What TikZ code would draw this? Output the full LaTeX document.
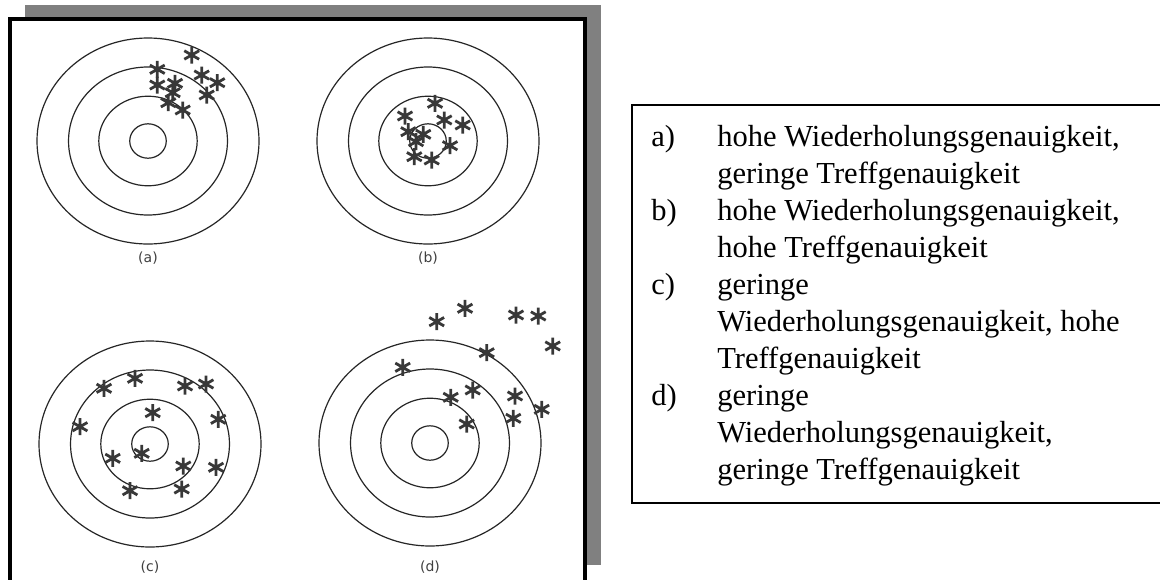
\documentclass[tikz,border=0pt]{standalone}
\usepackage{fontspec}
\setmainfont{Liberation Serif}
\newfontfamily\lblfont{DejaVu Sans}
\begin{document}
\begin{tikzpicture}[x=0.75pt,y=-0.75pt,
  ring/.style={draw=black!85, line width=0.9pt},
  shotline/.style={draw=black!78, line width=2.1pt},
  tgtlabel/.style={font=\lblfont\fontsize{10.5pt}{12pt}\selectfont, text=black!75, inner sep=0pt},
  legtext/.style={font=\fontsize{22.9pt}{27.75pt}\selectfont, anchor=base west, inner sep=0pt},
  pics/shot/.style={code={
    \draw[shotline] (0,-8.5)--(0,8.5) (-7.4,-4.25)--(7.4,4.25) (-7.4,4.25)--(7.4,-4.25);}}
]
\useasboundingbox (0,0) rectangle (1160,579);
\fill[white] (0,0) rectangle (1160,579);
% shadow and frame
\fill[gray] (25,5) rectangle (601,565);
\filldraw[fill=white, draw=black, line width=3pt] (10,19) rectangle (585,610);

\newcommand\tgt[2]{%
  \begin{scope}[shift={(#1,#2)}]
    \draw[ring] (0,0) ellipse [x radius=83.25pt, y radius=77.25pt];
    \draw[ring] (0,0) ellipse [x radius=59.6pt, y radius=55.5pt];
    \draw[ring] (0,0) ellipse [x radius=36.9pt, y radius=33.6pt];
    \draw[ring] (0,0) ellipse [x radius=13.7pt, y radius=12.9pt];
  \end{scope}}

\tgt{148}{141}
\tgt{428}{141}
\tgt{150}{444}
\tgt{430}{443}

\node[tgtlabel] (la) at (148,258) {(a)};
\node[tgtlabel] (lb) at (428,258) {(b)};
\node[tgtlabel] (lc) at (150,567) {(c)};
\node[tgtlabel] (ld) at (430,567) {(d)};

% shots (a)
\foreach \x/\y in {191.7/55, 157.3/69.3, 201.7/75, 217.3/82.7, 157.3/85, 175/83.3,
  172.7/92.7, 206.7/95, 168.3/102.7, 182.7/110}
  \pic at (\x,\y) {shot};
% shots (b)
\foreach \x/\y in {435/103.3, 405/116, 444.3/120, 462.7/125, 408.3/131.7, 423.3/134.3,
  416/141.7, 450/145.7, 414.3/156.7, 431.7/160}
  \pic at (\x,\y) {shot};
% shots (c)
\foreach \x/\y in {135/378.3, 104/388.3, 185/386, 206/384, 152.7/412.7, 218.3/419.3,
  80/426.7, 112.7/458.3, 141.7/453.3, 183.3/466, 216/467.3, 130/490.7, 181.7/489}
  \pic at (\x,\y) {shot};
% shots (d)
\foreach \x/\y in {465/308.3, 436.7/321.7, 516/315, 538.3/316, 552.7/346, 486.7/352.7,
  402.7/367.3, 472.7/390, 450.7/397.3, 515/396, 541.7/409.3, 513.3/418.3, 466.7/424}
  \pic at (\x,\y) {shot};

% legend
\draw[line width=1.5pt] (632,105) rectangle (1170,503);
\node[legtext] (ka) at (651,146) {a)};
\node[legtext] (ta1) at (717,146) {hohe Wiederholungsgenauigkeit,};
\node[legtext] (ta2) at (717,183) {geringe Treffgenauigkeit};
\node[legtext] (kb) at (651,220) {b)};
\node[legtext] (tb1) at (717,220) {hohe Wiederholungsgenauigkeit,};
\node[legtext] (tb2) at (717,257) {hohe Treffgenauigkeit};
\node[legtext] (kc) at (651,294) {c)};
\node[legtext] (tc1) at (717,294) {geringe};
\node[legtext] (tc2) at (717,331) {Wiederholungsgenauigkeit, hohe};
\node[legtext] (tc3) at (717,368) {Treffgenauigkeit};
\node[legtext] (kd) at (651,405) {d)};
\node[legtext] (td1) at (717,405) {geringe};
\node[legtext] (td2) at (717,442) {Wiederholungsgenauigkeit,};
\node[legtext] (td3) at (717,479) {geringe Treffgenauigkeit};
\end{tikzpicture}
\end{document}
